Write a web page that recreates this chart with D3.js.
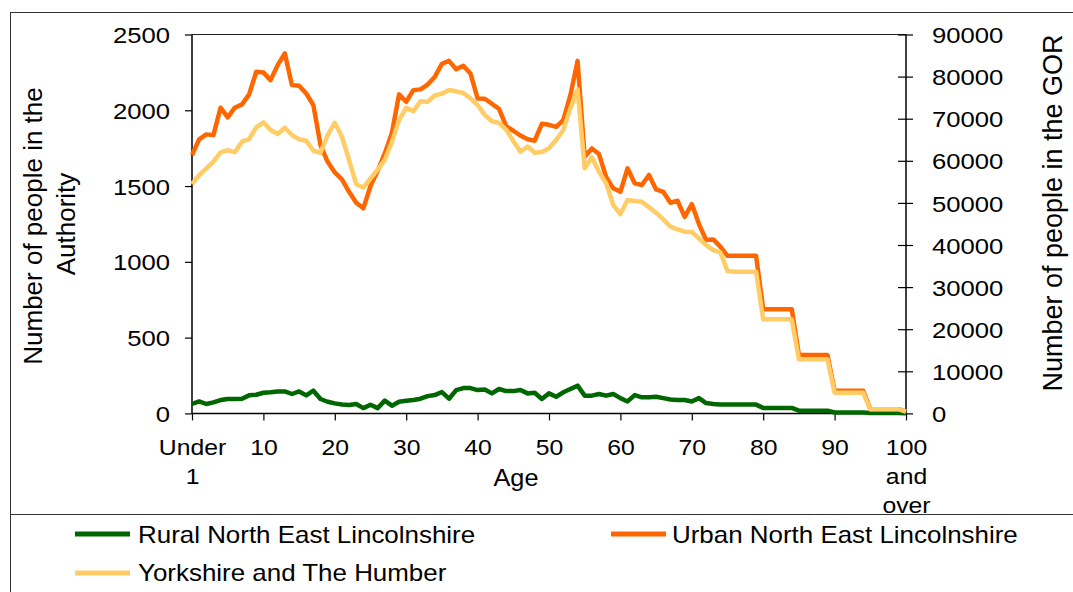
<!DOCTYPE html>
<html><head><meta charset="utf-8">
<script src="https://cdn.jsdelivr.net/npm/d3@7"></script>
<style>
body{margin:0;background:#fff}
svg{display:block}
text{font-family:"Liberation Sans",Arial,sans-serif;fill:#000}
</style>
</head><body>
<svg id="c" width="1073" height="592"></svg>
<script>
// ---- data ----
const ages = d3.range(0, 101).map(i => i === 0 ? "Under 1" : (i === 100 ? "100 and over" : String(i)));

const rural = [62,79,62,73,88,95,95,97,119,123,
  136,139,145,145,128,145,119,150,95,77,
  66,59,55,62,35,57,35,84,51,77,
  84,88,97,114,121,141,97,154,167,167,
  154,158,132,161,147,147,154,132,136,95,
  132,110,139,161,183,117,117,128,117,128,
  101,79,121,106,106,110,101,92,88,88,
  79,101,68,62,59,58,58,58,58,58,
  36,36,36,36,36,18,18,18,18,18,
  6,6,6,6,6,3,3,3,3,3,
  1];

const urban = [1704,1808,1841,1836,2017,1953,2017,2039,2105,2254,
  2250,2199,2298,2375,2166,2162,2111,2034,1770,1660,
  1590,1544,1462,1390,1353,1500,1600,1715,1850,2105,
  2056,2133,2138,2170,2220,2307,2326,2270,2294,2243,
  2078,2076,2043,2009,1895,1865,1833,1809,1799,1911,
  1904,1891,1935,2100,2326,1693,1748,1711,1561,1485,
  1462,1617,1518,1507,1573,1478,1462,1390,1403,1297,
  1381,1249,1144,1148,1100,1040,1040,1040,1040,1040,
  688,688,688,688,688,386,386,386,386,386,
  150,150,150,150,150,28,28,28,28,28,
  11];

const gor = [54480,56620,58210,59780,62010,62560,62010,64530,65170,67950,
  69130,67310,66360,67860,66120,65100,64770,62390,61920,66120,
  69040,65720,60180,54450,53650,55800,57900,60200,64500,69680,
  72600,71800,74150,74030,75500,75950,76810,76500,76100,74840,
  73250,70900,69400,69000,67400,64700,62150,63400,61920,62100,
  62960,64930,67310,72460,76970,58210,60820,57410,54650,49490,
  47360,50680,50440,50280,48950,47670,46100,44340,43720,43150,
  43080,41590,39990,38800,38260,33800,33650,33650,33650,33650,
  22350,22350,22350,22350,22350,12850,12850,12850,12850,12850,
  4920,4920,4920,4920,4920,970,970,970,970,970,
  400];

const leftTicks = [0, 500, 1000, 1500, 2000, 2500];
const rightTicks = [0, 10000, 20000, 30000, 40000, 50000, 60000, 70000, 80000, 90000];
const xTickCats = ["Under 1","10","20","30","40","50","60","70","80","90","100 and over"];
const seriesNames = ["Rural North East Lincolnshire", "Urban North East Lincolnshire", "Yorkshire and The Humber"];
const seriesColors = ["#006600", "#FF6600", "#FFCC66"];

// ---- layout ----
const svg = d3.select("#c");
const L = 192, R = 906, T = 34.5, B = 413.4;
const STRETCH = 1.14;

function stretch(sel, k) {
  sel.each(function() {
    const w = this.getComputedTextLength();
    d3.select(this).attr("textLength", w * k).attr("lengthAdjust", "spacingAndGlyphs");
  });
}

// outer frame
svg.append("line").attr("x1", 10.5).attr("x2", 10.5).attr("y1", 12).attr("y2", 592).attr("stroke", "#333").attr("stroke-width", 1);
svg.append("line").attr("x1", 10).attr("x2", 1073).attr("y1", 12.5).attr("y2", 12.5).attr("stroke", "#333").attr("stroke-width", 1);
svg.append("line").attr("x1", 10).attr("x2", 1073).attr("y1", 514.5).attr("y2", 514.5).attr("stroke", "#333").attr("stroke-width", 1);

const x = d3.scalePoint().domain(ages).range([L, R]);
const yL = d3.scaleLinear().domain([0, 2500]).range([B, T]);
const yR = d3.scaleLinear().domain([0, 90000]).range([B, T]);

// plot top border
svg.append("line").attr("x1", L).attr("x2", R).attr("y1", T).attr("y2", T).attr("stroke", "#222").attr("stroke-width", 1.2);

// left axis
const gL = svg.append("g").attr("transform", `translate(${L},0)`)
  .call(d3.axisLeft(yL).tickValues(leftTicks).tickSize(7).tickPadding(15).tickFormat(d3.format("d")));
gL.selectAll("text").attr("font-size", 22.5).attr("dy", "0.36em");
stretch(gL.selectAll("text"), STRETCH);

// right axis (cross ticks)
const gR = svg.append("g").attr("transform", `translate(${R},0)`)
  .call(d3.axisRight(yR).tickValues(rightTicks).tickSize(7).tickPadding(19).tickFormat(d3.format("d")));
gR.selectAll(".tick line").attr("x1", -8).attr("x2", 7);
gR.selectAll("text").attr("font-size", 22.5).attr("dy", "0.36em");
stretch(gR.selectAll("text"), STRETCH);

// x axis
const gX = svg.append("g").attr("transform", `translate(0,${B})`)
  .call(d3.axisBottom(x).tickValues(xTickCats).tickSize(7).tickFormat(""));
gX.selectAll(".tick").each(function(d) {
  const words = d.split(" ");
  const g = d3.select(this);
  words.forEach((w, i) => {
    g.append("text").attr("x", 0).attr("y", 41.6 + i * 29).attr("text-anchor", "middle")
      .attr("font-size", 22.5).attr("fill", "#000").text(w);
  });
});
stretch(gX.selectAll("text"), 1.1);

[gL, gR, gX].forEach(g => {
  g.selectAll(".domain").attr("stroke", "#000").attr("stroke-width", 1.5);
  g.selectAll(".tick line").attr("stroke", "#000").attr("stroke-width", 1.2);
});
gL.select(".domain").attr("d", `M0,${T}V${B}`);
gR.select(".domain").attr("d", `M0,${T}V${B}`);
gX.select(".domain").attr("d", `M${L},0H${R}`);

// axis titles
const ax = svg.append("text").attr("x", 516).attr("y", 486).attr("text-anchor", "middle").attr("font-size", 23).text("Age");
stretch(ax, 1.1);

svg.append("text").attr("transform", "translate(42,226) rotate(-90)").attr("text-anchor", "middle")
  .attr("font-size", 26).text("Number of people in the");
svg.append("text").attr("transform", "translate(75,224) rotate(-90)").attr("text-anchor", "middle")
  .attr("font-size", 26).text("Authority");
svg.append("text").attr("transform", "translate(1062,213) rotate(-90)").attr("text-anchor", "middle")
  .attr("font-size", 27).text("Number of people in the GOR");

// series lines
const lineL = d3.line().x((d, i) => x(ages[i])).y(d => yL(d));
const lineR = d3.line().x((d, i) => x(ages[i])).y(d => yR(d));
const plot = svg.append("g");
plot.append("path").datum(rural).attr("d", lineL).attr("fill", "none").attr("stroke", seriesColors[0]).attr("stroke-width", 4.5).attr("stroke-linejoin", "round");
plot.append("path").datum(urban).attr("d", lineL).attr("fill", "none").attr("stroke", seriesColors[1]).attr("stroke-width", 4.5).attr("stroke-linejoin", "round");
plot.append("path").datum(gor).attr("d", lineR).attr("fill", "none").attr("stroke", seriesColors[2]).attr("stroke-width", 4.5).attr("stroke-linejoin", "round");

// legend
const legendPos = [[75, 534, 138, 543], [611, 534, 672, 543], [75, 573, 138, 581]];
const legend = svg.append("g");
seriesNames.forEach((n, i) => {
  const [lx, ly, tx, ty] = legendPos[i];
  legend.append("line").attr("x1", lx).attr("x2", lx + 55).attr("y1", ly).attr("y2", ly)
    .attr("stroke", seriesColors[i]).attr("stroke-width", 5);
  const t = legend.append("text").attr("x", tx).attr("y", ty).attr("font-size", 24).text(n);
  stretch(t, 1.08);
});
</script>
</body></html>
